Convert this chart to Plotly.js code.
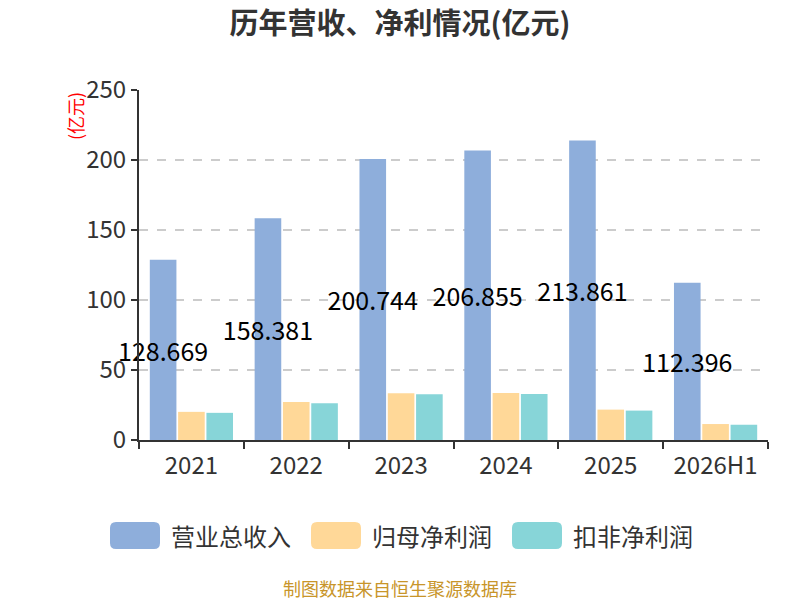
<!DOCTYPE html>
<html>
<head>
<meta charset="utf-8">
<script src="https://cdn.plot.ly/plotly-3.0.1.min.js"></script>
<style>
  html, body { margin: 0; padding: 0; background: #fff; }
  #chart { width: 800px; height: 600px; }
</style>
</head>
<body>
<div id="chart"></div>
<script>
const years = ['2021', '2022', '2023', '2024', '2025', '2026H1'];
const revenue = [128.669, 158.381, 200.744, 206.855, 213.861, 112.396];
const netProfit = [20.1, 27.1, 33.4, 33.6, 21.7, 11.4];
const deductedProfit = [19.4, 26.3, 32.7, 32.9, 21.0, 10.9];
const seriesNames = ['营业总收入', '归母净利润', '扣非净利润'];
const seriesColors = ['#8eaedb', '#ffd898', '#87d5d8'];

const font = '"Noto Sans CJK SC", "Noto Sans", sans-serif';

// plot area in pixels, used to place the hand-made legend
const M = { l: 139, r: 32, t: 90, b: 160 };
const PW = 800 - M.l - M.r, PH = 600 - M.t - M.b;
const px = v => (v - M.l) / PW;
const py = v => 1 - (v - M.t) / PH;

function roundRect(x0, y0, x1, y1, r) {
    const p = (x, y) => px(x) + ',' + py(y);
    return 'M' + p(x0 + r, y0) + ' L' + p(x1 - r, y0) + ' Q' + p(x1, y0) + ' ' + p(x1, y0 + r) +
        ' L' + p(x1, y1 - r) + ' Q' + p(x1, y1) + ' ' + p(x1 - r, y1) +
        ' L' + p(x0 + r, y1) + ' Q' + p(x0, y1) + ' ' + p(x0, y1 - r) +
        ' L' + p(x0, y0 + r) + ' Q' + p(x0, y0) + ' ' + p(x0 + r, y0) + ' Z';
}

const data = [{
    x: years,
    y: revenue,
    name: seriesNames[0],
    type: 'bar',
    marker: { color: seriesColors[0] },
    text: revenue.map(v => v.toFixed(3)),
    textposition: 'inside',
    insidetextanchor: 'middle',
    constraintext: 'none',
    cliponaxis: false,
    textangle: 0,
    textfont: { family: font, size: 25, color: '#000' },
    hoverinfo: 'none',
}, {
    x: years,
    y: netProfit,
    name: seriesNames[1],
    type: 'bar',
    marker: { color: seriesColors[1] },
    textposition: 'none',
    hoverinfo: 'none',
}, {
    x: years,
    y: deductedProfit,
    name: seriesNames[2],
    type: 'bar',
    marker: { color: seriesColors[2] },
    textposition: 'none',
    hoverinfo: 'none',
}];

// legend: rounded swatches + labels, like the original
const legendLeft = [110, 311, 512];
const shapes = [];
const annotations = [];
seriesNames.forEach((name, i) => {
    const x0 = legendLeft[i];
    shapes.push({
        type: 'path', xref: 'paper', yref: 'paper',
        path: roundRect(x0, 522, x0 + 50, 549, 6),
        fillcolor: seriesColors[i], line: { width: 0 },
    });
    annotations.push({
        text: name, xref: 'paper', yref: 'paper',
        x: px(x0 + 59), y: py(535),
        xanchor: 'left', yanchor: 'middle', showarrow: false,
        font: { family: font, size: 24, color: '#333' },
    });
});

annotations.push({
    text: '(亿元)',
    xref: 'paper', yref: 'paper',
    x: px(75), y: 1,
    xanchor: 'center', yanchor: 'top',
    textangle: -90,
    showarrow: false,
    font: { family: font, size: 18, color: '#ff0000' },
}, {
    text: '制图数据来自恒生聚源数据库',
    xref: 'paper', yref: 'paper',
    x: px(400), y: py(588),
    xanchor: 'center', yanchor: 'middle',
    showarrow: false,
    font: { family: font, size: 18, color: '#c8952a' },
});

const layout = {
    width: 800,
    height: 600,
    margin: M,
    paper_bgcolor: '#fff',
    plot_bgcolor: '#fff',
    font: { family: font, color: '#333' },
    barmode: 'group',
    bargap: 0.19,
    bargroupgap: 0.06,
    showlegend: false,
    title: {
        text: '<b>历年营收、净利情况(亿元)</b>',
        font: { family: font, size: 29, color: '#333' },
        x: 0.5,
        xanchor: 'center',
        y: 0.96,
        yanchor: 'middle',
    },
    xaxis: {
        type: 'category',
        showline: true,
        linecolor: '#333',
        linewidth: 2,
        ticks: 'outside',
        tickson: 'boundaries',
        ticklen: 7,
        tickwidth: 2,
        tickcolor: '#333',
        tickfont: { family: font, size: 24, color: '#333' },
        ticklabelstandoff: 3,
        showgrid: false,
        zeroline: false,
        fixedrange: true,
    },
    yaxis: {
        range: [0, 250],
        dtick: 50,
        showline: true,
        linecolor: '#333',
        linewidth: 2,
        ticks: 'outside',
        ticklen: 6,
        tickwidth: 2,
        tickcolor: '#333',
        tickfont: { family: font, size: 24, color: '#333' },
        showgrid: true,
        gridcolor: '#cccccc',
        griddash: 'dash',
        gridwidth: 1.5,
        zeroline: false,
        fixedrange: true,
    },
    shapes: shapes,
    annotations: annotations,
};

Plotly.newPlot('chart', data, layout, { displayModeBar: false, staticPlot: true });
</script>
</body>
</html>
